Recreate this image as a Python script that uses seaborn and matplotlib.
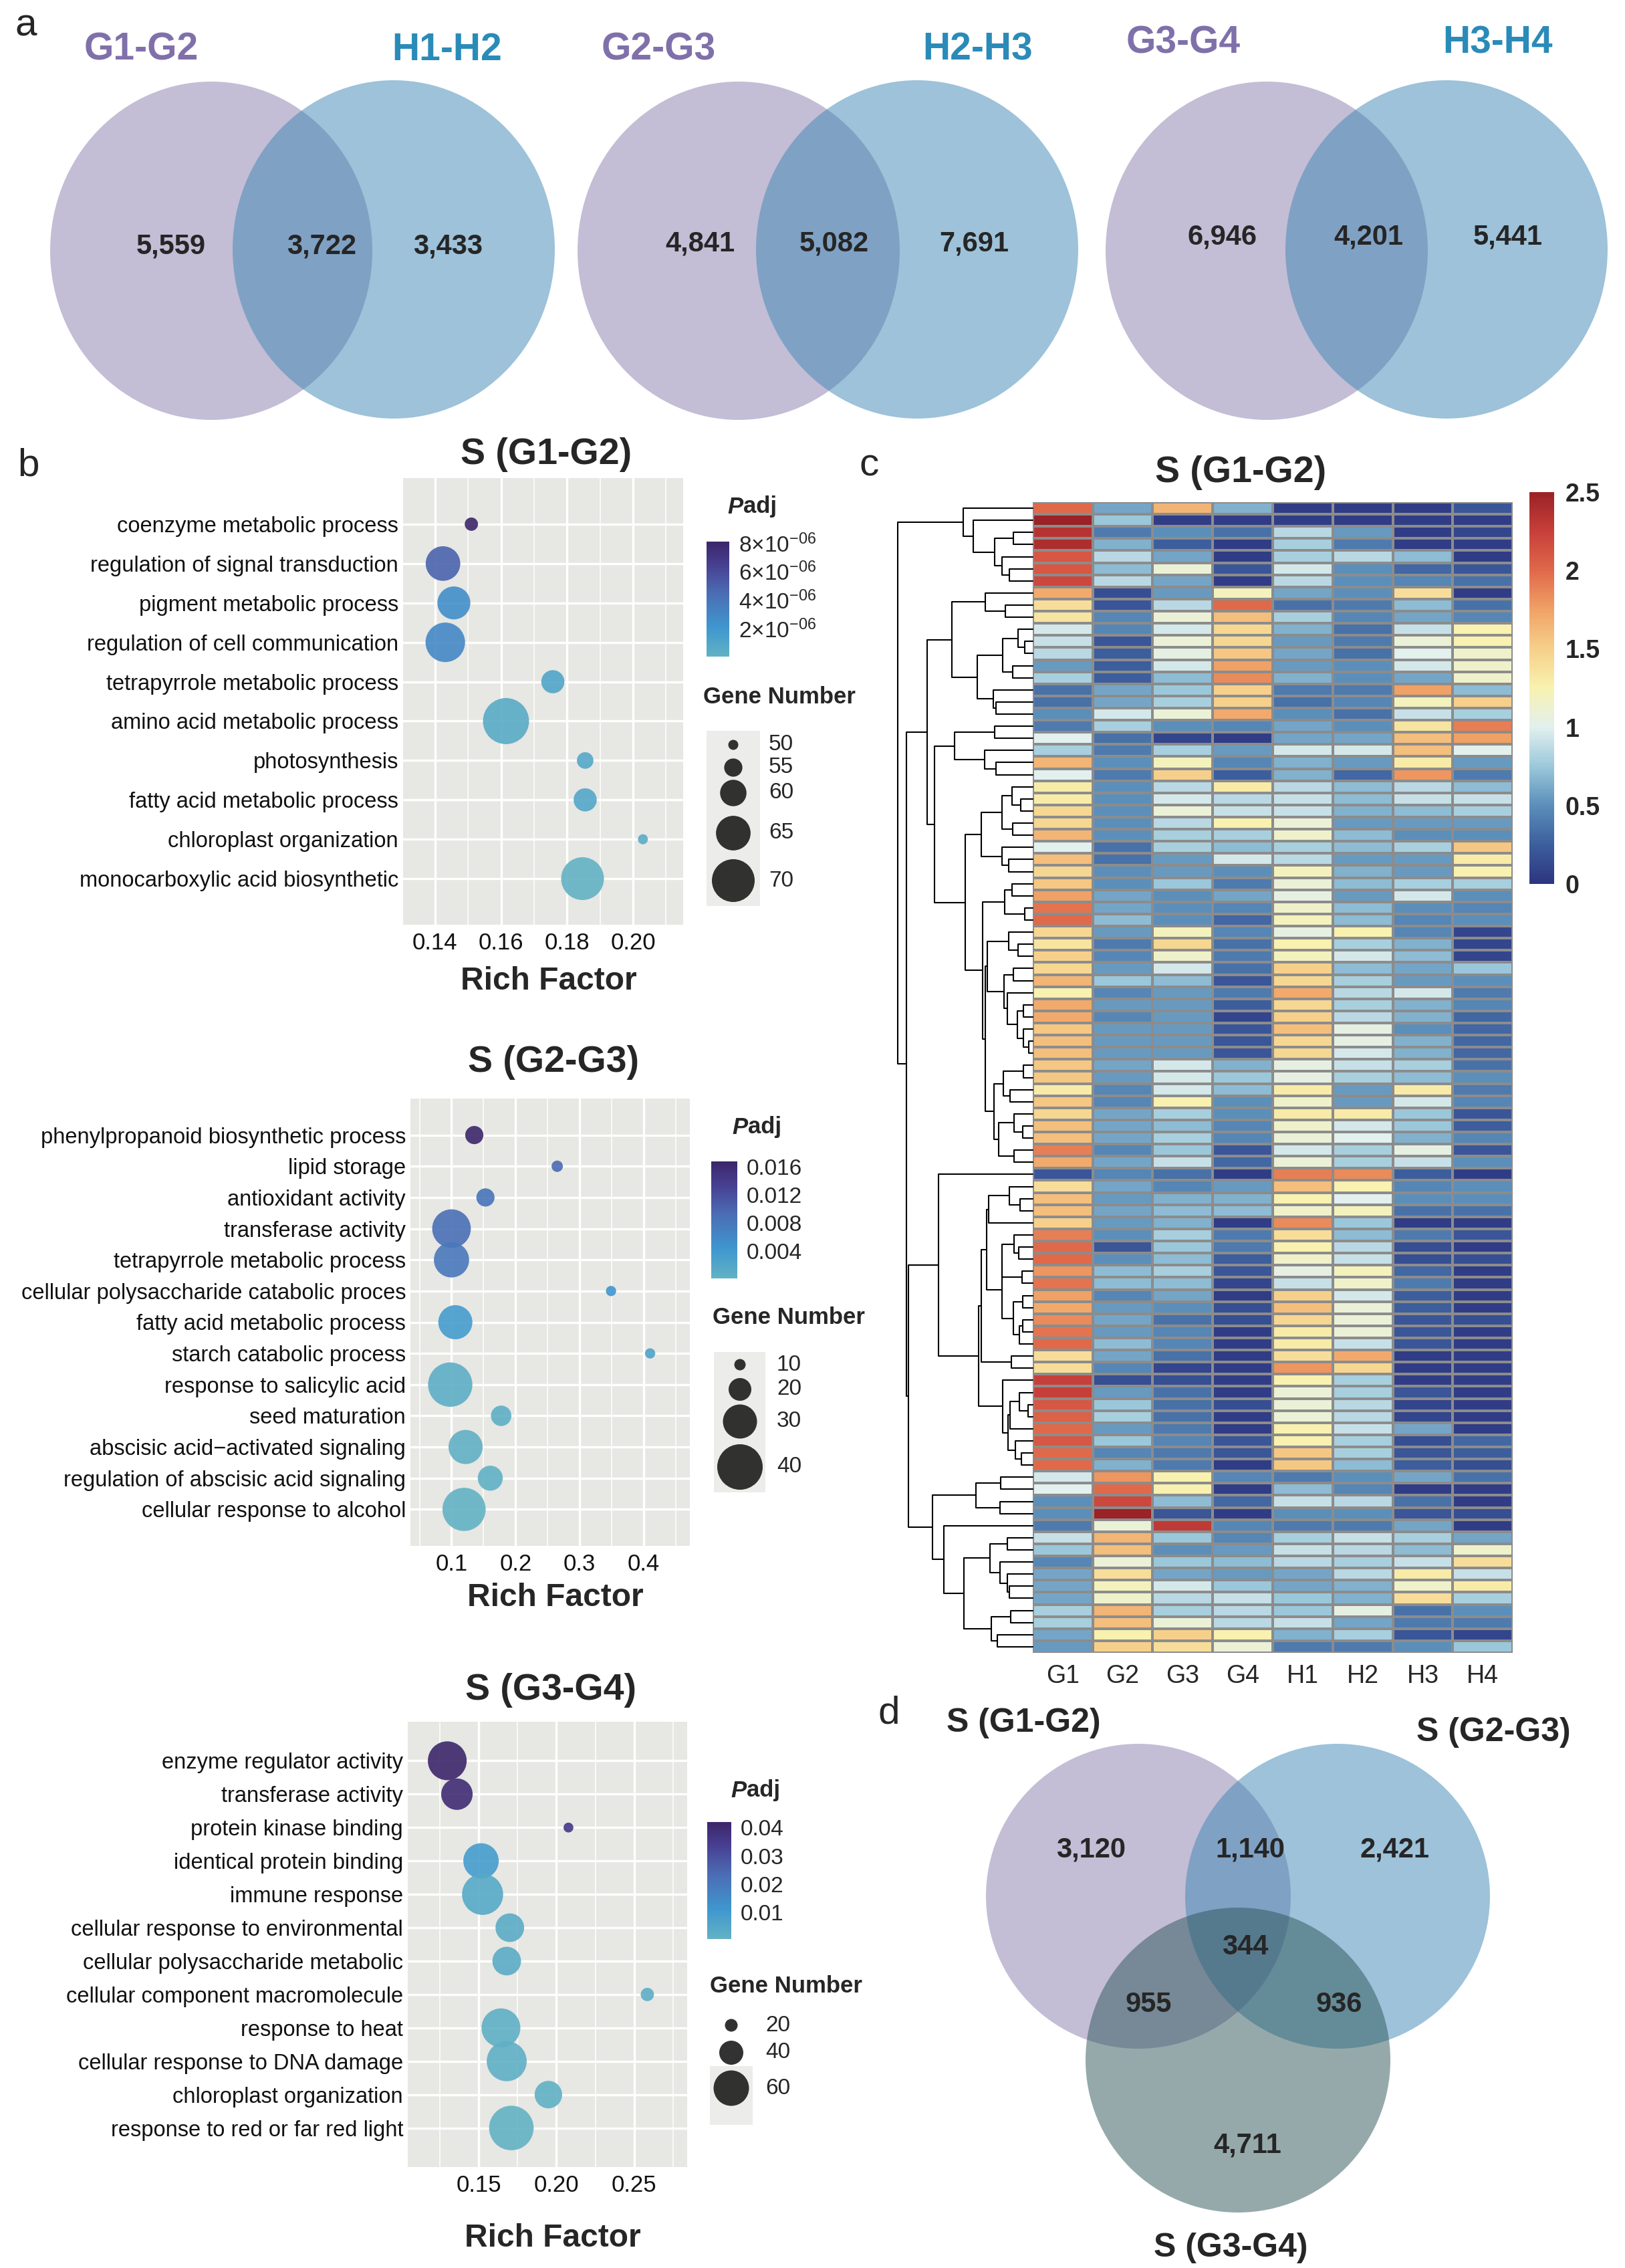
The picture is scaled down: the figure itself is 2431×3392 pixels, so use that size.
import matplotlib
matplotlib.use('Agg')
import matplotlib.pyplot as plt
from matplotlib.colors import LinearSegmentedColormap, Normalize
from matplotlib.patches import Ellipse, Rectangle
from matplotlib.ticker import MultipleLocator, FormatStrFormatter
import numpy as np
import pandas as pd
import seaborn as sns

# ---------------- data ----------------
# panel a: pairwise venns (G only, shared, H only)
venn_a_names = [('G1-G2', 'H1-H2'), ('G2-G3', 'H2-H3'), ('G3-G4', 'H3-H4')]
venn_a_left = [5559, 4841, 6946]
venn_a_shared = [3722, 5082, 4201]
venn_a_right = [3433, 7691, 5441]

# panel d: three-set venn
venn_d_names = ['S (G1-G2)', 'S (G2-G3)', 'S (G3-G4)']
venn_d_regions = ['100', '110', '010', '111', '101', '011', '001']
venn_d_counts = [3120, 1140, 2421, 344, 955, 936, 4711]

# panel b: GO enrichment bubbles
go1_terms = ['coenzyme metabolic process', 'regulation of signal transduction',
             'pigment metabolic process', 'regulation of cell communication',
             'tetrapyrrole metabolic process', 'amino acid metabolic process',
             'photosynthesis', 'fatty acid metabolic process',
             'chloroplast organization', 'monocarboxylic acid biosynthetic']
go1_rich = [0.151, 0.1424, 0.1457, 0.1431, 0.1757, 0.1615, 0.1855, 0.1855, 0.2030, 0.1847]
go1_count = [52, 65, 64, 68, 58, 72, 54, 58, 50, 70]
go1_padj = [8.1e-6, 4.9e-6, 2.6e-6, 2.9e-6, 1.0e-6, 0.6e-6, 0.8e-6, 0.9e-6, 0.5e-6, 0.02e-6]

go2_terms = ['phenylpropanoid biosynthetic process', 'lipid storage', 'antioxidant activity',
             'transferase activity', 'tetrapyrrole metabolic process',
             'cellular polysaccharide catabolic proces', 'fatty acid metabolic process',
             'starch catabolic process', 'response to salicylic acid', 'seed maturation',
             'abscisic acid\u2212activated signaling', 'regulation of abscisic acid signaling',
             'cellular response to alcohol']
go2_rich = [0.1356, 0.265, 0.153, 0.100, 0.100, 0.349, 0.106, 0.410, 0.098, 0.1775, 0.122, 0.1605, 0.1196]
go2_count = [16, 10, 16, 34, 31, 9, 30, 9, 39, 18, 30, 22, 38]
go2_padj = [0.0168, 0.0095, 0.0085, 0.0090, 0.0080, 0.0045, 0.0035, 0.0025,
            0.0008, 0.0006, 0.0004, 0.0003, 0.0001]

go3_terms = ['enzyme regulator activity', 'transferase activity', 'protein kinase binding',
             'identical protein binding', 'immune response', 'cellular response to environmental',
             'cellular polysaccharide metabolic', 'cellular component macromolecule',
             'response to heat', 'cellular response to DNA damage', 'chloroplast organization',
             'response to red or far red light']
go3_rich = [0.1298, 0.136, 0.2077, 0.1515, 0.1525, 0.170, 0.168, 0.2584, 0.1643, 0.168, 0.1948, 0.171]
go3_count = [66, 53, 15, 60, 70, 48, 48, 21, 66, 68, 46, 76]
go3_padj = [0.042, 0.040, 0.036, 0.009, 0.004, 0.003, 0.003, 0.002, 0.0015, 0.0015, 0.001, 0.0005]

# panel c: expression heatmap, rows in displayed order
samples = ['G1', 'G2', 'G3', 'G4', 'H1', 'H2', 'H3', 'H4']
expr_g1 = [2.0, 2.5, 2.35, 2.4, 2.1, 2.1, 2.2, 1.7, 1.4, 1.35,
           0.95, 0.9, 0.85, 0.55, 0.8, 0.35, 0.35, 0.5, 0.4, 1.0,
           0.8, 1.65, 1.0, 1.3, 1.3, 1.45, 1.45, 1.65, 1.0, 1.6,
           1.45, 1.55, 1.75, 1.95, 2.0, 1.45, 1.35, 1.5, 1.45, 1.65,
           1.25, 1.7, 1.7, 1.55, 1.6, 1.6, 1.55, 1.55, 1.3, 1.55,
           1.45, 1.6, 1.6, 1.9, 1.7, 0.2, 1.4, 1.6, 1.6, 1.5,
           1.9, 2.0, 2.0, 1.8, 1.95, 1.75, 1.7, 1.85, 1.95, 2.0,
           1.4, 1.4, 2.25, 2.25, 2.1, 2.05, 2.0, 2.1, 2.0, 2.0,
           0.95, 1.0, 0.5, 0.5, 0.4, 0.9, 0.75, 0.45, 0.6, 0.6,
           0.6, 0.8, 0.8, 0.6, 0.55]
expr_g2 = [0.6, 0.75, 0.4, 0.65, 0.85, 0.7, 0.85, 0.15, 0.2, 0.45,
           0.45, 0.2, 0.25, 0.25, 0.25, 0.6, 0.6, 0.95, 0.8, 0.35,
           0.4, 0.5, 0.4, 0.5, 0.5, 0.5, 0.5, 0.5, 0.35, 0.35,
           0.5, 0.5, 0.6, 0.6, 0.7, 0.55, 0.4, 0.45, 0.55, 0.75,
           0.45, 0.55, 0.45, 0.55, 0.55, 0.55, 0.6, 0.55, 0.45, 0.45,
           0.6, 0.6, 0.6, 0.45, 0.6, 0.45, 0.6, 0.55, 0.6, 0.55,
           0.5, 0.2, 0.5, 0.7, 0.7, 0.45, 0.55, 0.6, 0.55, 0.7,
           0.6, 0.45, 0.15, 0.55, 0.75, 0.8, 0.55, 0.75, 0.45, 0.65,
           1.8, 2.0, 2.2, 2.5, 1.1, 1.65, 1.6, 1.1, 1.4, 1.2,
           1.15, 1.65, 1.6, 1.25, 1.5]
expr_g3 = [1.65, 0.05, 0.5, 0.25, 0.6, 1.1, 0.6, 0.55, 0.85, 1.1,
           0.95, 1.1, 1.05, 0.95, 0.7, 0.75, 0.8, 1.1, 0.5, 0.1,
           0.8, 1.2, 1.5, 0.85, 0.95, 1.1, 0.85, 0.8, 0.8, 0.55,
           0.55, 0.75, 0.5, 0.5, 0.5, 1.2, 1.45, 1.15, 0.95, 0.7,
           0.55, 0.55, 0.55, 0.55, 0.55, 0.55, 0.95, 0.95, 0.95, 1.25,
           0.8, 0.7, 0.8, 0.75, 0.9, 0.35, 0.45, 0.65, 0.7, 0.65,
           0.8, 0.75, 0.7, 0.8, 0.7, 0.6, 0.5, 0.35, 0.45, 0.45,
           0.35, 0.1, 0.15, 0.35, 0.35, 0.35, 0.4, 0.45, 0.4, 0.4,
           1.25, 1.25, 0.7, 0.2, 2.3, 0.75, 0.5, 0.75, 0.6, 0.95,
           0.85, 0.8, 1.1, 1.5, 1.4]
expr_g4 = [0.65, 0.05, 0.35, 0.05, 0.05, 0.2, 0.05, 1.2, 2.0, 1.6,
           1.45, 1.45, 1.55, 1.75, 1.85, 1.5, 1.5, 1.7, 0.45, 0.05,
           0.55, 0.45, 0.25, 1.3, 0.85, 0.9, 1.25, 0.8, 0.7, 0.95,
           0.5, 0.4, 0.6, 0.45, 0.3, 0.45, 0.35, 0.4, 0.35, 0.2,
           0.4, 0.25, 0.1, 0.2, 0.2, 0.2, 0.65, 0.75, 0.7, 0.5,
           0.5, 0.45, 0.45, 0.2, 0.3, 0.05, 0.55, 0.65, 0.7, 0.05,
           0.4, 0.4, 0.25, 0.2, 0.1, 0.05, 0.15, 0.15, 0.05, 0.05,
           0.05, 0.05, 0.05, 0.05, 0.15, 0.05, 0.05, 0.2, 0.2, 0.05,
           0.45, 0.05, 0.3, 0.05, 0.45, 0.45, 0.55, 0.7, 0.55, 0.75,
           0.9, 0.85, 0.85, 1.25, 1.1]
expr_h1 = [0.05, 0.05, 0.85, 0.8, 0.8, 0.95, 0.85, 0.6, 0.35, 0.8,
           0.65, 0.55, 0.6, 0.55, 0.65, 0.4, 0.35, 0.5, 0.6, 0.6,
           0.95, 0.65, 0.65, 0.85, 0.9, 0.9, 1.1, 1.15, 0.8, 0.85,
           1.2, 1.1, 1.05, 1.15, 1.2, 1.05, 1.25, 1.2, 1.5, 1.45,
           1.7, 1.45, 1.5, 1.6, 1.45, 1.45, 1.05, 1.05, 1.3, 1.15,
           1.3, 1.15, 1.1, 0.95, 1.1, 1.9, 1.6, 1.25, 1.15, 1.85,
           1.4, 1.25, 1.15, 1.05, 0.9, 1.5, 1.6, 1.45, 1.3, 1.3,
           1.4, 1.8, 1.25, 1.1, 1.1, 1.1, 1.25, 1.25, 1.55, 1.55,
           0.4, 0.7, 0.9, 0.5, 0.4, 0.8, 0.9, 0.85, 0.6, 0.6,
           0.75, 0.75, 0.9, 0.65, 0.4]
expr_h2 = [0.05, 0.05, 0.55, 0.4, 0.85, 0.5, 0.5, 0.5, 0.4, 0.45,
           0.35, 0.4, 0.35, 0.5, 0.5, 0.4, 0.45, 0.35, 0.5, 0.6,
           0.95, 0.55, 0.3, 0.7, 0.7, 0.65, 0.55, 0.7, 0.7, 0.55,
           0.65, 0.7, 0.55, 0.7, 0.7, 1.25, 0.8, 0.95, 0.7, 0.8,
           0.85, 0.8, 0.85, 1.05, 1.05, 0.95, 0.9, 0.8, 0.55, 0.55,
           1.3, 0.95, 1.0, 0.8, 0.8, 1.85, 1.25, 1.0, 1.2, 0.75,
           0.7, 0.85, 0.9, 1.2, 1.15, 0.95, 1.1, 1.1, 1.1, 0.9,
           1.7, 1.45, 0.8, 0.8, 0.85, 0.85, 0.9, 0.8, 0.8, 0.7,
           0.5, 0.45, 0.85, 0.5, 0.4, 0.9, 0.85, 0.8, 0.85, 0.65,
           0.65, 1.05, 0.6, 0.8, 0.4]
expr_h3 = [0.05, 0.05, 0.05, 0.05, 0.7, 0.3, 0.45, 1.4, 0.7, 0.6,
           0.9, 1.1, 1.0, 0.95, 0.6, 1.75, 1.2, 0.9, 1.35, 1.6,
           1.6, 1.3, 1.8, 0.85, 0.9, 0.7, 0.55, 0.5, 0.8, 0.55,
           0.55, 0.8, 0.95, 0.5, 0.45, 0.45, 0.65, 0.7, 0.6, 0.55,
           0.95, 0.65, 0.65, 0.5, 0.65, 0.65, 0.8, 0.7, 1.3, 0.95,
           0.75, 0.75, 0.65, 1.05, 0.9, 0.25, 0.45, 0.5, 0.35, 0.05,
           0.4, 0.15, 0.15, 0.3, 0.4, 0.25, 0.25, 0.2, 0.2, 0.2,
           0.05, 0.05, 0.05, 0.2, 0.1, 0.1, 0.6, 0.15, 0.2, 0.25,
           0.6, 0.05, 0.35, 0.2, 0.6, 0.8, 0.7, 0.9, 1.3, 1.15,
           1.4, 0.35, 0.4, 0.2, 0.5]
expr_h4 = [0.2, 0.05, 0.1, 0.05, 0.05, 0.2, 0.35, 0.05, 0.35, 0.45,
           1.25, 1.25, 1.15, 1.15, 1.15, 0.7, 1.5, 0.8, 1.9, 1.75,
           1.0, 0.55, 0.4, 0.7, 0.9, 0.8, 0.55, 0.5, 1.55, 1.3,
           1.25, 0.8, 0.5, 0.45, 0.5, 0.1, 0.1, 0.1, 0.75, 0.5,
           0.4, 0.45, 0.3, 0.3, 0.3, 0.3, 0.35, 0.5, 0.4, 0.45,
           0.2, 0.25, 0.45, 0.2, 0.5, 0.05, 0.5, 0.5, 0.35, 0.05,
           0.2, 0.05, 0.15, 0.05, 0.05, 0.05, 0.05, 0.15, 0.05, 0.05,
           0.05, 0.05, 0.05, 0.05, 0.05, 0.05, 0.05, 0.3, 0.25, 0.15,
           0.35, 0.05, 0.05, 0.15, 0.05, 0.6, 1.15, 1.4, 0.9, 1.3,
           0.8, 0.5, 0.4, 0.1, 0.75]

# ---------------- style ----------------
W, H = 2431, 3392
sns.set_style('white')
plt.rcParams['font.family'] = ['Liberation Sans', 'DejaVu Sans']
plt.rcParams['mathtext.fontset'] = 'custom'
plt.rcParams['mathtext.rm'] = 'Liberation Sans'
plt.rcParams['mathtext.it'] = 'Liberation Sans:italic'
plt.rcParams['mathtext.bf'] = 'Liberation Sans:bold'

purple, blue, slate = '#897dad', '#3d87b5', '#2d5559'
go_cmap = LinearSegmentedColormap.from_list(
    'go', [(0, '#62b2c3'), (0.25, '#3f97cf'), (0.55, '#4b6db5'), (0.8, '#473f91'), (1, '#3c266a')])
hm_cmap = LinearSegmentedColormap.from_list(
    'hm', ['#2d3580', '#3d5f9e', '#5b8fba', '#9cc8db', '#e2f0ee', '#f8f2b0',
           '#f6d08a', '#f0a266', '#e0694a', '#c8403a', '#9b2226'])


def px_box(x0, y0, x1, y1):
    return [x0 / W, 1 - y1 / H, (x1 - x0) / W, (y1 - y0) / H]


def size_lookup(values, anchors):
    # marker area (pt^2) with diameter growing linearly with gene number
    (v0, d0), (v1, d1) = anchors
    return {v: ((d0 + (d1 - d0) * (v - v0) / (v1 - v0)) * 0.72) ** 2 for v in set(values)}


fig = plt.figure(figsize=(W / 100, H / 100), dpi=100)
over = fig.add_axes([0, 0, 1, 1])
over.set_xlim(0, W)
over.set_ylim(H, 0)
over.axis('off')


def label(x, y, s, size, **kw):
    over.text(x, y, s, fontsize=size, ha=kw.pop('ha', 'center'), va=kw.pop('va', 'center'), **kw)


# ---------------- panel a ----------------
label(39, 38, 'a', 42)
venn_a_centres = [(316, 589), (1105, 1372), (1895, 2164)]
venn_a_label_x = [(211, 669), (985, 1463), (1770, 2241)]
venn_a_label_y = [75, 75, 65]
venn_a_num_x = [(256, 481, 670), (1047, 1248, 1457), (1829, 2047, 2256)]
venn_a_num_y = [369, 365, 354]
for i in range(3):
    cl, cr = venn_a_centres[i]
    over.add_patch(Ellipse((cl, 375), 482, 506, color=purple, alpha=0.5, lw=0))
    over.add_patch(Ellipse((cr, 373), 482, 506, color=blue, alpha=0.5, lw=0))
    gl, hl = venn_a_names[i]
    label(venn_a_label_x[i][0], venn_a_label_y[i], gl, 41, fontweight='bold', color='#8070aa')
    label(venn_a_label_x[i][1], venn_a_label_y[i], hl, 41, fontweight='bold', color='#2a8bb8')
    for x, n in zip(venn_a_num_x[i], (venn_a_left[i], venn_a_shared[i], venn_a_right[i])):
        label(x, venn_a_num_y[i], f'{n:,}', 30, fontweight='bold')


# ---------------- panel b ----------------
def go_panel(box, terms, rich, count, padj, xlim, major, minor, fmt, anchors,
             title_y, xlabel_y, cbar_box, cbar_ticks, cbar_labels, padj_xy,
             gene_xy, key_x, key_y, key_vals, key_box, key_label_x):
    ax = fig.add_axes(px_box(*box))
    df = pd.DataFrame({'term': terms, 'rich': rich, 'count': count, 'padj': padj})
    norm = (min(padj), max(padj))
    sizes = size_lookup(list(count) + list(key_vals), anchors)
    sns.scatterplot(data=df, x='rich', y='term', hue='padj', size='count',
                    palette=go_cmap, hue_norm=norm, sizes=sizes, legend=False,
                    alpha=0.9, linewidth=0, zorder=3, ax=ax)
    ax.set_facecolor('#e7e7e3')
    for s in ax.spines.values():
        s.set_visible(False)
    ax.set_xlim(*xlim)
    ax.set_ylim(len(terms) - 1 + 1.17, -1.17)
    ax.xaxis.set_major_locator(MultipleLocator(major))
    ax.xaxis.set_minor_locator(MultipleLocator(minor))
    ax.xaxis.set_major_formatter(FormatStrFormatter(fmt))
    ax.set_axisbelow(True)
    ax.grid(which='major', color='white', lw=2.4)
    ax.grid(which='minor', axis='x', color='white', lw=1.1)
    ax.tick_params(which='major', length=3, width=1.3, color='#333333', labelcolor='#111111')
    ax.tick_params(which='minor', length=0)
    ax.tick_params(axis='y', labelsize=23.5, pad=2)
    ax.tick_params(axis='x', labelsize=25, pad=5)
    ax.set_xlabel('')
    ax.set_ylabel('')
    cx = (box[0] + box[2]) / 2
    label(cx + 5, title_y, 'S (' + title_names.pop(0) + ')', 40, fontweight='bold')
    label(cx + 8, xlabel_y, 'Rich Factor', 34.5, fontweight='bold')

    cax = fig.add_axes(px_box(*cbar_box))
    sm = plt.cm.ScalarMappable(norm=Normalize(*norm), cmap=go_cmap)
    cb = fig.colorbar(sm, cax=cax, ticks=cbar_ticks)
    cb.ax.set_yticklabels(cbar_labels)
    cb.outline.set_visible(False)
    cax.tick_params(length=5, width=1.2, color='white', direction='in', labelsize=24, pad=10)

    px, py = padj_xy
    label(px - 13, py, 'P', 25, fontweight='bold', fontstyle='italic', ha='right')
    label(px - 13, py, 'adj', 25, fontweight='bold', ha='left')
    label(gene_xy[0], gene_xy[1], 'Gene Number', 25, fontweight='bold', ha='left')
    kx0, ky0, kx1, ky1 = key_box
    over.add_patch(Rectangle((kx0, ky0), kx1 - kx0, ky1 - ky0, color='#ececea', lw=0))
    over.scatter([key_x] * len(key_vals), key_y, s=[sizes[v] for v in key_vals],
                 color='#1c1c1c', alpha=0.9, linewidths=0, zorder=3)
    for v, y in zip(key_vals, key_y):
        label(key_label_x, y, str(v), 24, ha='left')
    return ax


title_names = ['G1-G2', 'G2-G3', 'G3-G4']
label(43, 697, 'b', 42)

go_panel((603, 715, 1022, 1383), go1_terms, go1_rich, go1_count, go1_padj,
         (0.1303, 0.2152), 0.02, 0.01, '%.2f', ((50, 15), (70, 64)),
         680, 1467, (1057, 810, 1091, 982),
         [2e-6, 4e-6, 6e-6, 8e-6], [f'{k}\u00d710$^{{-06}}$' for k in (2, 4, 6, 8)],
         (1125, 758), (1052, 1042), 1097, [1114, 1148, 1186, 1246, 1317],
         [50, 55, 60, 65, 70], (1057, 1093, 1137, 1355), 1150)

go_panel((614, 1643, 1032, 2312), go2_terms, go2_rich, go2_count, go2_padj,
         (0.0359, 0.472), 0.1, 0.05, '%.1f', ((10, 17), (40, 68)),
         1589, 2390, (1064, 1737, 1103, 1912),
         [0.004, 0.008, 0.012, 0.016], ['0.004', '0.008', '0.012', '0.016'],
         (1132, 1686), (1066, 1971), 1107, [2041, 2078, 2126, 2194],
         [10, 20, 30, 40], (1068, 2022, 1145, 2232), 1162)

go_panel((610, 2575, 1028, 3241), go3_terms, go3_rich, go3_count, go3_padj,
         (0.1044, 0.284), 0.05, 0.025, '%.2f', ((20, 19), (60, 53)),
         2528, 3348, (1058, 2725, 1094, 2900),
         [0.01, 0.02, 0.03, 0.04], ['0.01', '0.02', '0.03', '0.04'],
         (1130, 2678), (1062, 2970), 1094, [3029, 3070, 3123],
         [20, 40, 60], (1062, 3090, 1126, 3178), 1145)


# ---------------- panel c ----------------
def ordered_tree(mat):
    """Complete-linkage merges limited to neighbouring groups so that the
    dendrogram leaves keep the heatmap row order."""
    groups = [([i], i + 0.5, 0.0) for i in range(len(mat))]
    links = []
    while len(groups) > 1:
        dists = []
        for (ra, _, _), (rb, _, _) in zip(groups[:-1], groups[1:]):
            diff = mat[ra][:, None, :] - mat[rb][None, :, :]
            dists.append(np.sqrt((diff ** 2).sum(-1)).max())
        k = int(np.argmin(dists))
        (ra, ya, ha), (rb, yb, hb) = groups[k], groups[k + 1]
        h = max(dists[k], ha, hb)
        links.append((ya, ha, yb, hb, h))
        groups[k:k + 2] = [(ra + rb, (ya + yb) / 2, h)]
    return links


expr = pd.DataFrame(dict(zip(samples, [expr_g1, expr_g2, expr_g3, expr_g4,
                                       expr_h1, expr_h2, expr_h3, expr_h4])))
label(1300, 697, 'c', 42)
label(1856, 707, 'S (G1-G2)', 40, fontweight='bold')

ax_hm = fig.add_axes(px_box(1545, 751, 2263, 2472))
ax_hcb = fig.add_axes(px_box(2288, 736, 2325, 1322))
sns.heatmap(expr, ax=ax_hm, cmap=hm_cmap, vmin=0, vmax=2.5, linewidths=1.6,
            linecolor='#8c8c8c', cbar_ax=ax_hcb, yticklabels=False, xticklabels=True)
ax_hm.tick_params(axis='x', length=0, labelsize=27, pad=12, labelrotation=0)
hcb = ax_hm.collections[0].colorbar
hcb.set_ticks([0, 0.5, 1, 1.5, 2, 2.5])
hcb.set_ticklabels(['0', '0.5', '1', '1.5', '2', '2.5'])
hcb.outline.set_visible(False)
ax_hcb.tick_params(length=0, labelsize=27, pad=12)
for t in ax_hcb.get_yticklabels():
    t.set_fontweight('bold')

ax_dg = fig.add_axes(px_box(1343, 751, 1545, 2472))
links = ordered_tree(expr.to_numpy())
for ya, ha, yb, hb, h in links:
    ax_dg.plot([ha, h, h, hb], [ya, ya, yb, yb], color='black', lw=1.5, clip_on=False)
ax_dg.set_ylim(len(expr), 0)
ax_dg.set_xlim(links[-1][4], 0)
ax_dg.axis('off')

# ---------------- panel d ----------------
label(1330, 2562, 'd', 42)
over.add_patch(Ellipse((1703, 2836), 456, 456, color=purple, alpha=0.5, lw=0))
over.add_patch(Ellipse((2001, 2836), 456, 456, color=blue, alpha=0.5, lw=0))
over.add_patch(Ellipse((1852, 3081), 456, 456, color=slate, alpha=0.5, lw=0))
for (x, y), name in zip([(1531, 2577), (2234, 2591), (1841, 3362)], venn_d_names):
    label(x, y, name, 36, fontweight='bold')
venn_d_pos = {'100': (1632, 2767), '110': (1870, 2767), '010': (2086, 2767),
              '111': (1863, 2912), '101': (1718, 2998), '011': (2003, 2998),
              '001': (1866, 3208)}
for reg, n in zip(venn_d_regions, venn_d_counts):
    x, y = venn_d_pos[reg]
    label(x, y, f'{n:,}', 30, fontweight='bold')

fig.savefig('out.png', dpi=100, facecolor='white')
